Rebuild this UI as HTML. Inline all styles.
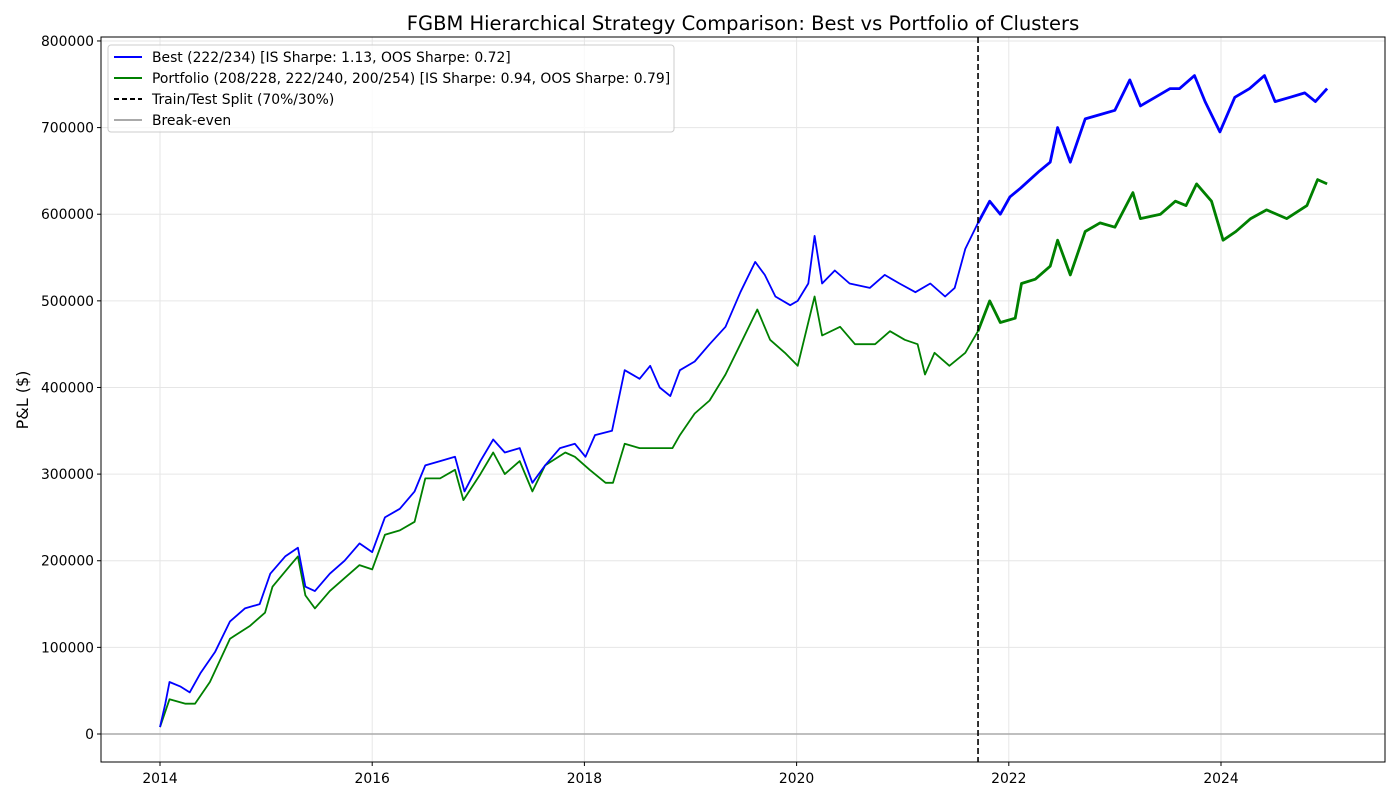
<!DOCTYPE html>
<html><head><meta charset="utf-8">
<style>
body{margin:0;background:#fff;font-family:"Liberation Sans","DejaVu Sans",sans-serif;}
svg text{font-family:"DejaVu Sans","Liberation Sans",sans-serif;}
</style></head>
<body>
<svg id="chart" width="1400" height="800" xmlns="http://www.w3.org/2000/svg">
<rect width="1400" height="800" fill="#fff"/>
<text x="743" y="30" font-size="19.5" text-anchor="middle">FGBM Hierarchical Strategy Comparison: Best vs Portfolio of Clusters</text>
<text x="0" y="0" font-size="16" text-anchor="middle" transform="translate(28,400) rotate(-90)">P&amp;L ($)</text>
<g id="grid"></g><g id="series"></g><g id="axes"></g>
<rect x="101" y="37" width="1284" height="725" fill="none" stroke="#000" stroke-width="1"/>
<g>
<rect x="108" y="45" width="566" height="87" fill="#fff" fill-opacity="0.8" stroke="#ccc" rx="3"/>
<line x1="114" y1="57" x2="142" y2="57" stroke="#0000ff" stroke-width="2"/>
<text x="152" y="62" font-size="13.9">Best (222/234) [IS Sharpe: 1.13, OOS Sharpe: 0.72]</text>
<line x1="114" y1="78" x2="142" y2="78" stroke="#008000" stroke-width="2"/>
<text x="152" y="83" font-size="13.9">Portfolio (208/228, 222/240, 200/254) [IS Sharpe: 0.94, OOS Sharpe: 0.79]</text>
<line x1="114" y1="99" x2="142" y2="99" stroke="#000" stroke-width="2" stroke-dasharray="5,3"/>
<text x="152" y="104" font-size="13.9">Train/Test Split (70%/30%)</text>
<line x1="114" y1="120" x2="142" y2="120" stroke="#aaa" stroke-width="2"/>
<text x="152" y="125" font-size="13.9">Break-even</text>
</g>
</svg>
<script>
const yTicks=[0,100000,200000,300000,400000,500000,600000,700000,800000];
const xTicks=[2014,2016,2018,2020,2022,2024];
const splitYear=2021.71;
const bestDates=[2014.0,2014.05,2014.09,2014.19,2014.28,2014.38,2014.52,2014.66,2014.80,2014.94,2015.04,2015.18,2015.30,2015.37,2015.46,2015.60,2015.74,2015.88,2016.0,2016.12,2016.26,2016.40,2016.50,2016.64,2016.78,2016.87,2017.02,2017.14,2017.25,2017.39,2017.51,2017.63,2017.77,2017.91,2018.01,2018.10,2018.26,2018.38,2018.52,2018.62,2018.71,2018.81,2018.90,2019.04,2019.18,2019.33,2019.47,2019.61,2019.70,2019.80,2019.94,2020.01,2020.11,2020.17,2020.24,2020.36,2020.50,2020.69,2020.83,2020.97,2021.12,2021.26,2021.40,2021.49,2021.59,2021.71,2021.82,2021.92,2022.01,2022.11,2022.20,2022.29,2022.39,2022.46,2022.58,2022.72,2022.86,2023.00,2023.14,2023.24,2023.38,2023.52,2023.61,2023.75,2023.85,2023.99,2024.13,2024.27,2024.41,2024.51,2024.65,2024.79,2024.89,2025.0];
const bestValues=[8,35,60,55,48,70,95,130,145,150,185,205,215,170,165,185,200,220,210,250,260,280,310,315,320,280,315,340,325,330,290,310,330,335,320,345,350,420,410,425,400,390,420,430,450,470,510,545,530,505,495,500,520,575,520,535,520,515,530,520,510,520,505,515,560,590,615,600,620,630,640,650,660,700,660,710,715,720,755,725,735,745,745,760,730,695,735,745,760,730,735,740,730,745];
const portDates=[2014.0,2014.09,2014.24,2014.33,2014.47,2014.66,2014.85,2014.99,2015.06,2015.23,2015.30,2015.37,2015.46,2015.60,2015.74,2015.88,2016.0,2016.12,2016.26,2016.40,2016.50,2016.64,2016.78,2016.86,2017.02,2017.14,2017.25,2017.39,2017.51,2017.63,2017.82,2017.91,2018.05,2018.20,2018.27,2018.38,2018.52,2018.69,2018.83,2018.90,2019.04,2019.18,2019.33,2019.47,2019.63,2019.75,2019.89,2020.01,2020.17,2020.24,2020.41,2020.55,2020.74,2020.88,2021.02,2021.14,2021.21,2021.30,2021.44,2021.59,2021.71,2021.82,2021.92,2022.06,2022.12,2022.25,2022.39,2022.46,2022.58,2022.72,2022.86,2023.00,2023.17,2023.24,2023.43,2023.57,2023.67,2023.77,2023.91,2024.02,2024.14,2024.28,2024.43,2024.62,2024.81,2024.91,2025.0];
const portValues=[8,40,35,35,60,110,125,140,170,195,205,160,145,165,180,195,190,230,235,245,295,295,305,270,300,325,300,315,280,310,325,320,305,290,290,335,330,330,330,345,370,385,415,450,490,455,440,425,505,460,470,450,450,465,455,450,415,440,425,440,465,500,475,480,520,525,540,570,530,580,590,585,625,595,600,615,610,635,615,570,580,595,605,595,610,640,635];

const X0=101,X1=1385,Y0=37,Y1=762;
const xs=y=>160+(y-2014)*106.1;
const ys=v=>734-v*0.0008663;
const NS="http://www.w3.org/2000/svg";
function mk(tag,attrs,parent){const e=document.createElementNS(NS,tag);for(const k in attrs)e.setAttribute(k,attrs[k]);parent.appendChild(e);return e;}
const grid=document.getElementById('grid'),axes=document.getElementById('axes'),ser=document.getElementById('series');
yTicks.forEach(t=>{const y=ys(t);
 const g=mk('line',{x1:X0,x2:X1,y1:y,y2:y,stroke:'#e6e6e6','stroke-width':1},grid);
 
 
 mk('line',{x1:X0-4,x2:X0,y1:y,y2:y,stroke:'#000'},axes);
 const tx=mk('text',{x:X0-7,y:y+5,'font-size':13.9,'text-anchor':'end'},axes);tx.textContent=String(t);
 
 
});
xTicks.forEach(t=>{const x=xs(t);
 const g=mk('line',{x1:x,x2:x,y1:Y0,y2:Y1,stroke:'#e6e6e6','stroke-width':1},grid);
 
 
 mk('line',{x1:x,x2:x,y1:Y1,y2:Y1+4,stroke:'#000'},axes);
 const tx=mk('text',{x:x,y:Y1+21,'font-size':13.9,'text-anchor':'middle'},axes);tx.textContent=String(t);
 
 
});
const be=mk('line',{x1:X0,x2:X1,y1:ys(0),y2:ys(0),stroke:'#aaa','stroke-width':1.5},ser);


function draw(dates,vals,color,name){
 const pre=[],post=[];
 dates.forEach((d,i)=>{const p=xs(d).toFixed(1)+','+ys(vals[i]*1000).toFixed(1);
  if(d<=splitYear)pre.push(p);if(d>=splitYear||(i+1<dates.length&&dates[i+1]>splitYear&&d<=splitYear))post.push(p);});
 const a=mk('polyline',{points:pre.join(' '),fill:'none',stroke:color,'stroke-width':1.8,'stroke-linejoin':'round'},ser);
 
 
 const b=mk('polyline',{points:post.join(' '),fill:'none',stroke:color,'stroke-width':2.8,'stroke-linejoin':'round'},ser);
 
 
}
draw(portDates,portValues,'#008000','portfolio-line');
draw(bestDates,bestValues,'#0000ff','best-line');
const sp=mk('line',{x1:xs(splitYear),x2:xs(splitYear),y1:Y0,y2:Y1,stroke:'#000','stroke-width':1.6,'stroke-dasharray':'6,3'},ser);


</script>
</body></html>
